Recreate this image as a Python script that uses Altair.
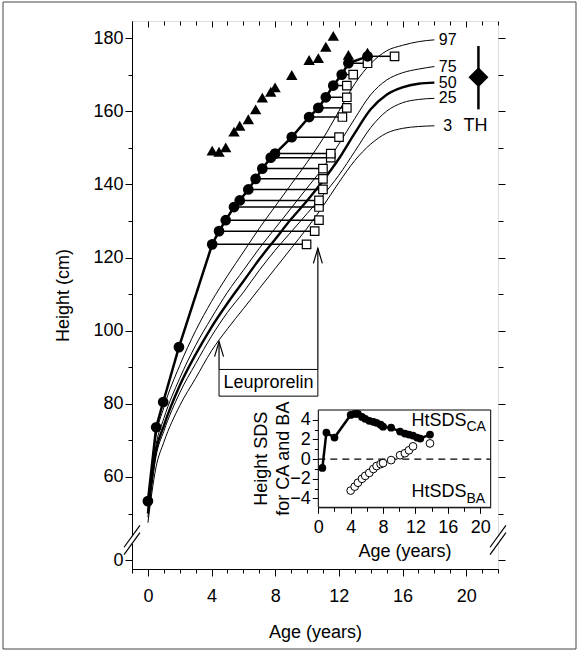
import altair as alt
import pandas as pd

FONT = "Liberation Sans"

# ---------------- Reference percentile curves (height, cm) ----------------
ref_age = [0, 0.5, 1, 2, 3, 4, 5, 6, 7, 8, 9, 10, 11, 12, 13, 14, 15, 16, 17, 18]
p97 = [53.0, 71.0, 79.0, 90.5, 100.0, 108.0, 115.0, 121.5, 128.0, 134.0, 140.0, 146.0, 152.5, 160.0, 167.5, 173.0, 176.5, 178.0, 179.0, 179.5]
p75 = [51.0, 68.5, 76.0, 87.0, 96.0, 103.5, 110.5, 116.5, 122.5, 128.0, 133.5, 139.0, 144.5, 151.0, 158.0, 164.5, 168.5, 170.5, 171.5, 172.2]
p50 = [50.0, 67.0, 74.0, 85.0, 93.5, 101.0, 107.5, 113.5, 119.5, 125.0, 130.5, 135.5, 141.0, 147.0, 154.0, 160.5, 164.5, 166.5, 167.5, 167.8]
p25 = [49.0, 65.5, 72.5, 83.0, 91.0, 98.5, 105.0, 110.5, 116.5, 122.0, 127.0, 132.0, 137.0, 142.5, 149.0, 155.5, 160.0, 162.3, 163.2, 163.5]
p3 = [47.5, 62.5, 69.5, 79.5, 87.0, 94.5, 100.5, 106.0, 111.5, 117.0, 122.5, 128.0, 134.0, 140.5, 146.5, 151.0, 154.0, 155.3, 155.8, 156.0]
pct_names = ["97", "75", "50", "25", "3"]

# ---------------- Patient: chronological age (CA) and height ----------------
ca_age = [0.0, 0.52, 0.96, 1.95, 4.04, 4.47, 4.89, 5.41, 5.77, 6.31, 6.77, 7.19, 7.72, 7.99,
          9.04, 10.13, 10.71, 11.18, 11.65, 12.18, 12.6, 13.8]
height = [53.4, 73.6, 80.5, 95.5, 123.6, 127.2, 130.2, 133.8, 135.6, 138.6, 141.5, 144.3, 147.3, 148.4,
          152.9, 158.4, 160.9, 163.8, 167.0, 170.0, 173.1, 175.0]
# bone age (BA) for the measurements from the 5th one on, and predicted adult height
bone_age = [9.97, 10.48, 10.75, 10.75, 10.75, 11.0, 11.0, 11.0, 11.49, 11.49, 12.01, 12.22,
            12.5, 12.5, 12.5, 12.9, 13.8, 15.5]
pred_height = [149.2, 148.9, 150.1, 154.4, 156.0, 157.8, 160.5, 163.7, 165.3, 166.5, 169.9, 174.0,
               174.5, 177.6, 180.6, None, 175.4, 176.0]

# ---------------- Inset: height SDS for CA and BA ----------------
sds_ca_age = [0.5, 1.0, 2.0, 4.0, 4.5, 4.9, 5.4, 5.8, 6.3, 6.8, 7.2, 7.7, 8.0, 9.0, 10.1, 10.7,
              11.2, 11.7, 12.2, 12.6, 13.8]
sds_ca = [-0.9, 2.7, 2.2, 4.5, 4.6, 4.6, 4.3, 4.1, 3.9, 3.8, 3.7, 3.5, 3.3, 3.2, 2.8, 2.6,
          2.5, 2.4, 2.2, 2.1, 2.5]
sds_ba_age = [4.0, 4.5, 4.9, 5.4, 5.8, 6.3, 6.8, 7.2, 7.7, 8.0, 9.0, 10.1, 10.7, 11.2, 11.7, 13.8]
sds_ba = [-3.2, -2.8, -2.4, -2.0, -1.7, -1.4, -1.0, -0.7, -0.5, -0.4, -0.1, 0.4, 0.6, 0.9, 1.3, 1.6]
inset_title = ["Height SDS", "for CA and BA"]

# ---------------- Target height and treatment ----------------
th_age = [20.77]
th_mid = [169.3]
th_lo = [160.5]
th_hi = [177.8]
leu_start, leu_end = 4.47, 10.68
leu_bottom, leu_top = 82.1, 89.4
arrow_tips = [97.0, 122.5]

# ---------------- Geometry ----------------
W, H = 366, 548
X_DOM = [-1, 22]
Y_DOM = [34.85, 184.65]
ZERO_POS = 37.31           # where the broken axis shows "0"
BREAK_POS = 42.8
XI_DOM = [0, 21.3]
YI_DOM = [-4.9, 5.0]
XI_RANGE = [186.3, 358.7]
YI_RANGE = [486.3, 389.0]

X = alt.Scale(domain=X_DOM, nice=False, zero=False)
Y = alt.Scale(domain=Y_DOM, nice=False, zero=False)
XI = alt.Scale(domain=XI_DOM, range=XI_RANGE, nice=False, zero=False)
YI = alt.Scale(domain=YI_DOM, range=YI_RANGE, nice=False, zero=False)

x_vals = list(range(-1, 23))
y_vals = [ZERO_POS] + list(range(50, 181, 10))

common_axis = dict(labelFont=FONT, labelFontSize=18, labelColor="black", titleFont=FONT,
                   titleFontSize=18, titleFontWeight="normal", titleColor="black",
                   tickColor="black", domainColor="black", grid=False, labelOverlap=False,
                   labelFlush=False)
no_title = {k: v for k, v in common_axis.items() if not k.startswith("title")}

main_x_axis = alt.Axis(values=x_vals, title="Age (years)",
                       labelExpr="(datum.value % 4 === 0 && datum.value >= 0 && datum.value <= 20) ? datum.label : ''",
                       tickSize={"condition": {"test": "datum.value % 4 === 0", "value": 7}, "value": 4},
                       labelPadding=11, titlePadding=18, **common_axis)
main_y_axis = alt.Axis(values=y_vals, title="Height (cm)",
                       labelExpr="datum.value < 40 ? '0' : (datum.value % 20 === 0 ? datum.label : '')",
                       tickSize={"condition": {"test": "datum.value % 20 === 0 || datum.value < 40", "value": 7}, "value": 4},
                       labelPadding=2, titlePadding=20, **common_axis)
top_axis = alt.Axis(values=x_vals, orient="bottom", offset=-H, labels=False, title=None, domain=False,
                    tickSize={"condition": {"test": "datum.value % 4 === 0", "value": 6}, "value": 4},
                    **no_title)
right_axis = alt.Axis(values=y_vals, orient="right", labels=False, title=None, domain=False,
                      tickSize={"condition": {"test": "datum.value % 20 === 0 || datum.value < 40", "value": 7}, "value": 5},
                      **no_title)
inset_x_axis = alt.Axis(values=list(range(0, 21, 2)), orient="bottom", offset=-(H - YI_RANGE[0]),
                        title="Age (years)",
                        labelExpr="datum.value % 4 === 0 ? datum.label : ''",
                        tickSize={"condition": {"test": "datum.value % 4 === 0", "value": 6}, "value": 4},
                        labelPadding=5, titlePadding=6, **common_axis)
inset_y_axis = alt.Axis(values=list(range(-4, 5)), orient="left", offset=-XI_RANGE[0],
                        title=None,
                        labelExpr="datum.value % 2 === 0 ? datum.label : ''",
                        tickSize={"condition": {"test": "datum.value % 2 === 0", "value": 6}, "value": 4},
                        labelPadding=2, **no_title)

# ---------------- Data frames ----------------
curves = []
for name, vals in zip(pct_names, [p97, p75, p50, p25, p3]):
    for a, v in zip(ref_age, vals):
        curves.append({"pct": name, "age": a, "h": v})
curves = pd.DataFrame(curves)
thin = curves[curves.pct != "50"]
thick = curves[curves.pct == "50"]
labels_df = curves[curves.age == ref_age[-1]].assign(lx=18.84)

pat = pd.DataFrame({"age": ca_age, "h": height})
n0 = len(ca_age) - len(bone_age)
ba_df = pd.DataFrame({"age": ca_age[n0:], "h": height[n0:], "ba": bone_age, "pah": pred_height})
pah_df = ba_df.dropna(subset=["pah"])

ins_ca = pd.DataFrame({"age": sds_ca_age, "s": sds_ca})
ins_ba = pd.DataFrame({"age": sds_ba_age, "s": sds_ba})

th_df = pd.DataFrame({"age": th_age, "mid": th_mid, "lo": th_lo, "hi": th_hi})
leu_box = pd.DataFrame({"a0": [leu_start], "a1": [leu_end], "y0": [leu_bottom], "y1": [leu_top],
                        "txt": ["Leuprorelin"], "am": [(leu_start + leu_end) / 2],
                        "ym": [(leu_bottom + leu_top) / 2]})
arrows = pd.DataFrame({"age": [leu_start, leu_end], "y0": [leu_top, leu_top], "tip": arrow_tips})

def xe(field, axis=None):
    return alt.X(field, type="quantitative", scale=X, axis=axis)

def ye(field, axis=None):
    return alt.Y(field, type="quantitative", scale=Y, axis=axis)

def xi(field, axis=None):
    return alt.X(field, type="quantitative", scale=XI, axis=axis)

def yi(field, axis=None):
    return alt.Y(field, type="quantitative", scale=YI, axis=axis)

# ---------------- Main layers ----------------
l_thin = alt.Chart(thin).mark_line(color="black", strokeWidth=1, interpolate="monotone").encode(
    x=xe("age", main_x_axis), y=ye("h", main_y_axis), detail="pct:N")
l_thick = alt.Chart(thick).mark_line(color="black", strokeWidth=2.4, interpolate="monotone").encode(
    x=xe("age", top_axis), y=ye("h", right_axis))
l_conn = alt.Chart(ba_df).mark_rule(color="black", strokeWidth=1.5).encode(
    x=xe("age"), x2="ba:Q", y=ye("h"))
l_pat_line = alt.Chart(pat).mark_line(color="black", strokeWidth=2.5).encode(x=xe("age"), y=ye("h"))
l_pat_pts = alt.Chart(pat).mark_point(shape="circle", filled=True, color="black", opacity=1, size=115).encode(
    x=xe("age"), y=ye("h"))
l_sq = alt.Chart(ba_df).mark_point(shape="square", filled=True, fill="white", stroke="black",
                                   strokeWidth=1.2, opacity=1, size=72).encode(x=xe("ba"), y=ye("h"))
l_tri = alt.Chart(pah_df).mark_point(shape="triangle-up", filled=True, color="black", opacity=1, size=130).encode(
    x=xe("age"), y=ye("pah"))
l_labels = alt.Chart(labels_df).mark_text(font=FONT, fontSize=16, color="black", align="center",
                                          baseline="middle").encode(x=xe("lx"), y=ye("h"), text="pct:N")
l_th_bar = alt.Chart(th_df).mark_rule(color="black", strokeWidth=2.5).encode(x=xe("age"), y=ye("lo"), y2="hi:Q")
l_th_pt = alt.Chart(th_df).mark_point(shape="diamond", filled=True, color="black", opacity=1, size=400).encode(
    x=xe("age"), y=ye("mid"))
l_th_txt = alt.Chart(th_df).mark_text(font=FONT, fontSize=18, color="black", align="center",
                                      baseline="middle", text="TH").encode(
    x=xe("age"), y=ye("lo"), xOffset=alt.value(-3), yOffset=alt.value(17))
l_box = alt.Chart(leu_box).mark_rect(fill="white", stroke="black", strokeWidth=1).encode(
    x=xe("a0"), x2="a1:Q", y=ye("y0"), y2="y1:Q")
l_box_txt = alt.Chart(leu_box).mark_text(font=FONT, fontSize=18, color="black", baseline="middle").encode(
    x=xe("am"), y=ye("ym"), text="txt:N")
l_arrow = alt.Chart(arrows).mark_rule(color="black", strokeWidth=1.2).encode(x=xe("age"), y=ye("y0"), y2="tip:Q")
l_head = alt.Chart(arrows).mark_point(shape="M -0.6 2 L 0 0 L 0.6 2", filled=False, color="black",
                                      strokeWidth=1.2, opacity=1, size=225).encode(x=xe("age"), y=ye("tip"))

# axis break marks (left and right edges, drawn in data coordinates)
brk = pd.DataFrame({"x": [X_DOM[0], X_DOM[0], X_DOM[1], X_DOM[1]],
                    "c": [BREAK_POS + 1.0, BREAK_POS - 1.0, BREAK_POS + 1.0, BREAK_POS - 1.0]})
brk["xa"] = brk.x - 0.5
brk["xb"] = brk.x + 0.5
brk["ya"] = brk.c - 3.0
brk["yb"] = brk.c + 3.0
gap = pd.DataFrame({"x": X_DOM, "ya": [BREAK_POS - 1.0] * 2, "yb": [BREAK_POS + 1.0] * 2})
l_gap = alt.Chart(gap).mark_rule(color="white", strokeWidth=4).encode(x=xe("x"), y=ye("ya"), y2="yb:Q")
l_brk = alt.Chart(brk).mark_rule(color="black", strokeWidth=1.2).encode(
    x=xe("xa"), x2="xb:Q", y=ye("ya"), y2="yb:Q")

# ---------------- Inset layers ----------------
frame = pd.DataFrame({"x0": [XI_DOM[0]], "x1": [XI_DOM[1]], "y0": [YI_DOM[0]], "y1": [YI_DOM[1]]})
i_frame = alt.Chart(frame).mark_rect(fill="white", stroke="black", strokeWidth=1).encode(
    x=xi("x0", inset_x_axis), x2="x1:Q", y=yi("y0", inset_y_axis), y2="y1:Q")
zero = pd.DataFrame({"x0": [XI_DOM[0]], "x1": [XI_DOM[1]], "y": [0]})
i_zero = alt.Chart(zero).mark_rule(color="black", strokeWidth=1.2, strokeDash=[7, 5]).encode(
    x=xi("x0"), x2="x1:Q", y=yi("y"))
i_ca_line = alt.Chart(ins_ca).mark_line(color="black", strokeWidth=2.5).encode(x=xi("age"), y=yi("s"))
i_ca_pts = alt.Chart(ins_ca).mark_point(shape="circle", filled=True, color="black", opacity=1, size=60).encode(
    x=xi("age"), y=yi("s"))
i_ba_pts = alt.Chart(ins_ba).mark_point(shape="circle", filled=True, fill="white", stroke="black",
                                        strokeWidth=1, opacity=1, size=60).encode(x=xi("age"), y=yi("s"))
txt = pd.DataFrame({"x": [18.3, 18.3], "y": [3.4, -3.9], "t": ["HtSDS", "HtSDS"],
                    "y2": [2.85, -4.45], "sub": ["CA", "BA"]})
i_txt = alt.Chart(txt).mark_text(font=FONT, fontSize=18, color="black", align="right",
                                 baseline="alphabetic").encode(x=xi("x"), y=yi("y"), text="t:N")
i_sub = alt.Chart(txt).mark_text(font=FONT, fontSize=14, color="black", align="left",
                                 baseline="alphabetic").encode(x=xi("x"), y=yi("y2"), text="sub:N")
# inset y-axis title as two rotated lines
ititle = pd.DataFrame({"x": [-6.9, -4.25], "y": [0.05, 0.05], "t": inset_title})
i_title = alt.Chart(ititle).mark_text(font=FONT, fontSize=18, color="black", align="center",
                                      baseline="middle", angle=270).encode(x=xi("x"), y=yi("y"), text="t:N")

# outer border of the figure
border = alt.Chart(frame).mark_rect(fill=None, stroke="#444444", strokeWidth=1).encode(
    x=alt.value(-129), x2=alt.value(444), y=alt.value(-19), y2=alt.value(628))

chart = alt.layer(
    border, l_thin, l_thick, l_conn, l_pat_line, l_sq, l_pat_pts, l_tri,
    l_labels, l_th_bar, l_th_pt, l_th_txt, l_arrow, l_head, l_box, l_box_txt,
    l_gap, l_brk,
    i_frame, i_zero, i_ca_line, i_ca_pts, i_ba_pts, i_txt, i_sub, i_title,
).resolve_scale(x="independent", y="independent").resolve_axis(x="independent", y="independent").properties(
    width=W, height=H,
    autosize=alt.AutoSizeParams(type="none"),
    padding={"left": 132, "top": 21, "right": 80, "bottom": 83},
).configure_view(stroke="black", strokeWidth=1).configure(background="white")

chart.save("out.html", embed_options={"renderer": "svg", "actions": False})
